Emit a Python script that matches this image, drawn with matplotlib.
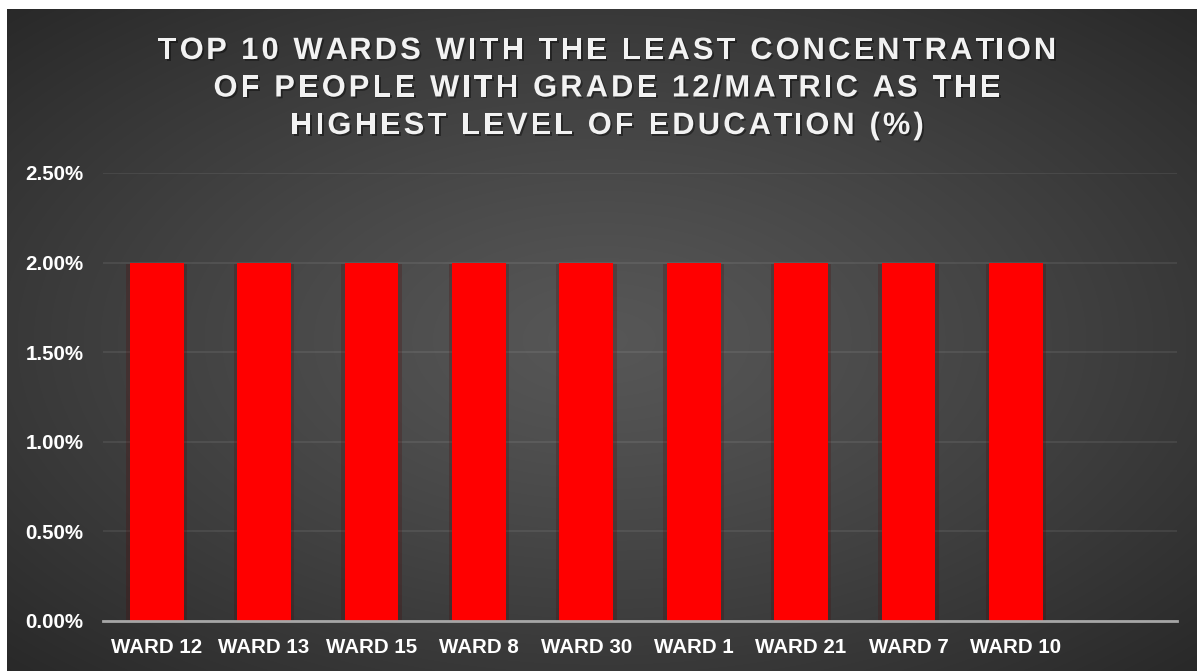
import numpy as np
import matplotlib
matplotlib.use("Agg")
import matplotlib.pyplot as plt
import matplotlib.patheffects as pe
from matplotlib.ticker import FuncFormatter

# wards with the lowest share of residents whose highest level is grade 12 / matric
wards = ["WARD 12", "WARD 13", "WARD 15", "WARD 8", "WARD 30",
         "WARD 1", "WARD 21", "WARD 7", "WARD 10", ""]
share = [2.0, 2.0, 2.0, 2.0, 2.0, 2.0, 2.0, 2.0, 2.0, np.nan]
yticks = [0.0, 0.5, 1.0, 1.5, 2.0, 2.5]

title_lines = ["TOP 10 WARDS WITH THE LEAST CONCENTRATION",
               "OF PEOPLE WITH GRADE 12/MATRIC AS THE",
               "HIGHEST LEVEL OF EDUCATION (%)"]

W, H, DPI = 1197, 671, 100
plt.rcParams['font.family'] = ['Liberation Sans', 'DejaVu Sans']

fig = plt.figure(figsize=(W / DPI, H / DPI), dpi=DPI, facecolor='white')


def fx(px):
    return px / W


def fy(px):
    # pixel row measured from the top
    return 1 - px / H


# dark panel with a soft radial glow in the middle
bg = fig.add_axes([fx(7), 0, 1 - fx(7), fy(9)])
bg.set_axis_off()
gx, gy = np.meshgrid(np.linspace(-1, 1, 600), np.linspace(-1, 1, 340))
r = np.clip(np.sqrt(gx ** 2 + gy ** 2) / np.sqrt(2), 0, 1)
shade = 0.34 - (0.34 - 0.16) * r ** 1.2
bg.imshow(np.dstack([shade] * 3), aspect='auto', extent=[0, 1, 0, 1],
          interpolation='bilinear')

ax = fig.add_axes([fx(103), fy(621), fx(1177) - fx(103), fy(173) - fy(621)])
ax.patch.set_alpha(0)

x = np.arange(len(wards))
bars = ax.bar(x, share, width=0.5, color='#FF0000', zorder=3)
for b in bars:
    b.set_path_effects([pe.SimplePatchShadow(offset=(2.5, -1), alpha=0.22),
                        pe.SimplePatchShadow(offset=(-2.5, -1), alpha=0.22),
                        pe.Normal()])

ax.set_xlim(-0.5, len(wards) - 0.5)
ax.set_ylim(0, 2.5)
ax.set_yticks(yticks)
ax.yaxis.set_major_formatter(FuncFormatter(lambda v, _: f"{v:.2f}%"))
ax.set_xticks(x)
ax.set_xticklabels(wards)

ax.grid(axis='y', color='white', alpha=0.09, linewidth=1.2, zorder=0)
ax.tick_params(length=0, colors='white', labelsize=14.8)
ax.tick_params(axis='y', pad=14)
ax.tick_params(axis='x', pad=12)
for lab in ax.get_xticklabels() + ax.get_yticklabels():
    lab.set_fontweight('bold')
for side in ['top', 'right', 'left']:
    ax.spines[side].set_visible(False)
ax.spines['bottom'].set_color('#a6a6a6')
ax.spines['bottom'].set_linewidth(2)
ax.spines['bottom'].set_zorder(4)

# letter-spaced title, drawn one glyph at a time
renderer = fig.canvas.get_renderer()
tracking = 3.1
title_kw = dict(fontsize=22.2, fontweight='bold', color='#f2f2f2')
shadow = [pe.withSimplePatchShadow(offset=(1.3, -1.3), shadow_rgbFace='black',
                                   alpha=0.4)]


def width_px(s):
    t = fig.text(0, 0, s + "I", **title_kw)
    w = t.get_window_extent(renderer).width
    t.remove()
    return w


bar_w = width_px("")
centre_x = 607
baselines = [59, 96.5, 134]
for line, base in zip(title_lines, baselines):
    total = width_px(line) - bar_w + tracking * (len(line) - 1)
    left = centre_x - total / 2
    for i, ch in enumerate(line):
        if ch == " ":
            continue
        offset = width_px(line[:i]) - bar_w + tracking * i
        fig.text(fx(left + offset), fy(base), ch, ha='left', va='baseline',
                 path_effects=shadow, **title_kw)

fig.savefig("out.png", dpi=DPI, facecolor=fig.get_facecolor())
